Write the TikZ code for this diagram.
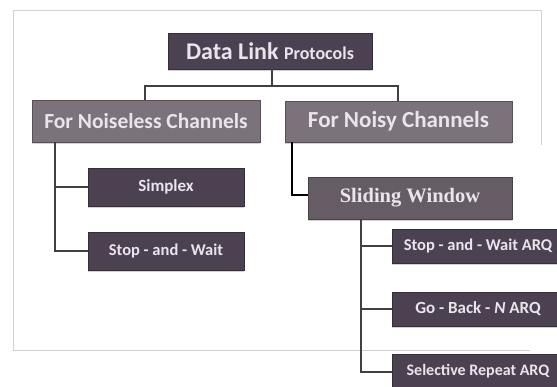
\documentclass[tikz,border=0pt]{standalone}
\usepackage{fontspec}
\setmainfont{Carlito}
\newfontfamily\serifb{Liberation Serif}
\usetikzlibrary{shadows}
\begin{document}
\begin{tikzpicture}[x=1pt,y=-1pt,
  box/.style={draw=#1!70!black, fill=#1, line width=0.8pt, text=txt, inner sep=0pt, anchor=center,
    drop shadow={shadow xshift=0pt, shadow yshift=-2pt, opacity=0.35}},
  conn/.style={draw=black!75, line width=1.1pt},
  frame/.style={draw=black!18, line width=0.8pt}]
\definecolor{dkbox}{HTML}{4B4150}
\definecolor{ltbox}{HTML}{7C727C}
\definecolor{mdbox}{HTML}{665C66}
\definecolor{txt}{HTML}{ECE4EC}
\useasboundingbox (0,0) rectangle (557,386);
\fill[white] (0,0) rectangle (557,386);
% faint frame
\draw[frame] (541,145) -- (541,10) -- (13,10) -- (13,350) -- (530,350);
% nodes
\node[box=dkbox, minimum width=204pt, minimum height=36pt] (root) at (270,51)
  {\bfseries\fontsize{24}{26}\selectfont Data Link \fontsize{18}{20}\selectfont Protocols};
\node[box=ltbox, minimum width=228pt, minimum height=42pt] (nl) at (146,121)
  {\bfseries\fontsize{21.5}{23}\selectfont For Noiseless Channels};
\node[box=ltbox, minimum width=227pt, minimum height=41pt] (ny) at (398.5,121.5)
  {\bfseries\fontsize{23}{25}\selectfont For Noisy Channels};
\node[box=dkbox, minimum width=156pt, minimum height=38pt] (sp) at (166,187)
  {\bfseries\fontsize{17}{19}\selectfont Simplex};
\node[box=dkbox, minimum width=156pt, minimum height=38pt] (sw) at (166,251)
  {\bfseries\fontsize{16.5}{18}\selectfont Stop - and - Wait};
\node[box=mdbox, minimum width=204pt, minimum height=42pt] (sl) at (410,198)
  {\serifb\bfseries\fontsize{20.5}{22}\selectfont Sliding Window};
\node[box=dkbox, minimum width=172pt, minimum height=34pt] (a1) at (478,246)
  {\bfseries\fontsize{16.5}{18}\selectfont Stop - and - Wait ARQ};
\node[box=dkbox, minimum width=172pt, minimum height=34pt] (a2) at (478,309)
  {\bfseries\fontsize{17}{19}\selectfont Go - Back - \textit{N} ARQ};
\node[box=dkbox, minimum width=172pt, minimum height=34pt] (a3) at (478,371)
  {\bfseries\fontsize{16}{18}\selectfont Selective Repeat ARQ};
% connectors
\coordinate (j) at (272,86);
\draw[conn] (root.south -| j) -- (j);
\draw[conn] (nl.north -| 145,0) -- (145,86) -- (398,86) -- (ny.north -| 398,0);
\draw[conn] (nl.south -| 55,0) -- (55,251) -- (sw.west);
\draw[conn] (55,187) -- (sp.west);
\draw[conn, draw=black, line width=1.5pt] (ny.south -| 292,0) -- (292,195) -- (sl.west |- 292,195);
\draw[conn] (sl.south -| 361,0) -- (361,372) -- (a3.west |- 361,372);
\draw[conn] (361,246) -- (a1.west);
\draw[conn] (361,309) -- (a2.west);
\end{tikzpicture}
\end{document}
